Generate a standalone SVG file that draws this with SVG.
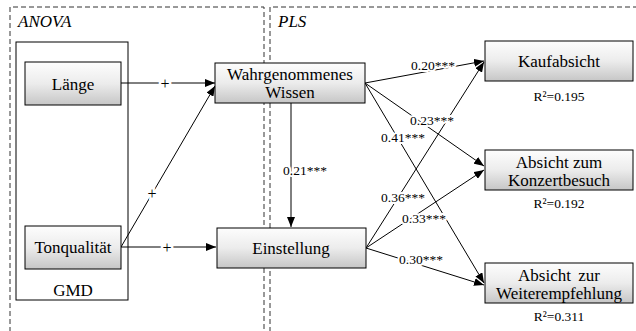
<svg xmlns="http://www.w3.org/2000/svg" width="636" height="331" viewBox="0 0 636 331" font-family="Liberation Serif, Tinos, DejaVu Serif, serif">
<style>
.frame{fill:none;stroke:#333;stroke-width:1;stroke-dasharray:5,3}
.box{stroke:#000;stroke-width:1;fill:url(#g)}
.plain{fill:#fff;stroke:#000;stroke-width:1}
.t{font-size:17px;fill:#000;text-anchor:middle}
.it{font-size:17px;font-style:italic;fill:#000}
.r{font-size:13.5px;fill:#000;text-anchor:middle}
.lab{font-size:13.5px;fill:#000;text-anchor:middle;stroke:#fff;stroke-width:4;paint-order:stroke;stroke-linejoin:round}
.plus{font-size:16px;fill:#000;text-anchor:middle;stroke:#fff;stroke-width:5;paint-order:stroke}
.c{stroke:#000;stroke-width:1;fill:none;marker-end:url(#a)}
</style>
<defs>
<linearGradient id="g" x1="0" y1="0" x2="0" y2="1">
<stop offset="0" stop-color="#fdfdfd"/>
<stop offset="0.5" stop-color="#ececec"/>
<stop offset="1" stop-color="#c6c6c6"/>
</linearGradient>
<marker id="a" viewBox="0 0 10 8" refX="10" refY="4" markerWidth="10" markerHeight="8" markerUnits="userSpaceOnUse" orient="auto">
<path d="M0,0 L10,4 L0,8 Z" fill="#000"/>
</marker>
</defs>
<g id="frames">
<path class="frame" d="M10,340 V7 H264 V340"/>
<path class="frame" d="M270,340 V7 H640"/>
<text class="it" x="18" y="27">ANOVA</text>
<text class="it" x="278" y="27">PLS</text>
</g>
<g id="gmd">
<rect class="plain" x="16" y="42" width="112" height="258"/>
<text class="t" x="73" y="296">GMD</text>
</g>
<g id="connectors">
<line class="c" x1="121" y1="83" x2="215" y2="83"/>
<line class="c" x1="121" y1="247" x2="215" y2="86"/>
<line class="c" x1="121" y1="247" x2="216" y2="247"/>
<line class="c" x1="291" y1="103" x2="291" y2="227"/>
<line class="c" x1="365" y1="83" x2="484" y2="61"/>
<line class="c" x1="365" y1="83" x2="484" y2="166"/>
<line class="c" x1="365" y1="83" x2="484" y2="283"/>
<line class="c" x1="366" y1="248" x2="484" y2="62"/>
<line class="c" x1="366" y1="248" x2="484" y2="170"/>
<line class="c" x1="366" y1="248" x2="484" y2="285"/>
<text class="plus" x="165" y="89">+</text>
<text class="plus" x="152" y="199">+</text>
<text class="plus" x="167" y="253">+</text>
<text class="lab" x="305" y="175">0.21***</text>
<text class="lab" x="433" y="70">0.20***</text>
<text class="lab" x="432" y="125">0.23***</text>
<text class="lab" x="403" y="142">0.41***</text>
<text class="lab" x="403" y="202">0.36***</text>
<text class="lab" x="424" y="223">0.33***</text>
<text class="lab" x="421" y="264">0.30***</text>
</g>
<g id="laenge">
<rect class="box" x="25" y="62" width="96" height="43"/>
<text class="t" x="73" y="90">Länge</text>
</g>
<g id="tonqualitaet">
<rect class="box" x="25" y="226" width="96" height="43"/>
<text class="t" x="73" y="253">Tonqualität</text>
</g>
<g id="wissen">
<rect class="box" x="215" y="63" width="150" height="40"/>
<text class="t" x="290" y="80">Wahrgenommenes</text>
<text class="t" x="290" y="98">Wissen</text>
</g>
<g id="einstellung">
<rect class="box" x="217" y="228" width="149" height="40"/>
<text class="t" x="291" y="254">Einstellung</text>
</g>
<g id="kaufabsicht">
<rect class="box" x="485" y="41" width="148" height="40"/>
<text class="t" x="559" y="67">Kaufabsicht</text>
<text class="r" x="559" y="101">R²=0.195</text>
</g>
<g id="konzertbesuch">
<rect class="box" x="485" y="150" width="148" height="40"/>
<text class="t" x="559" y="168">Absicht zum</text>
<text class="t" x="559" y="186">Konzertbesuch</text>
<text class="r" x="559" y="208">R²=0.192</text>
</g>
<g id="weiterempfehlung">
<rect class="box" x="485" y="263" width="148" height="40"/>
<text class="t" x="559" y="281" word-spacing="3">Absicht zur</text>
<text class="t" x="559" y="299">Weiterempfehlung</text>
<text class="r" x="559" y="321">R²=0.311</text>
</g>
</svg>
